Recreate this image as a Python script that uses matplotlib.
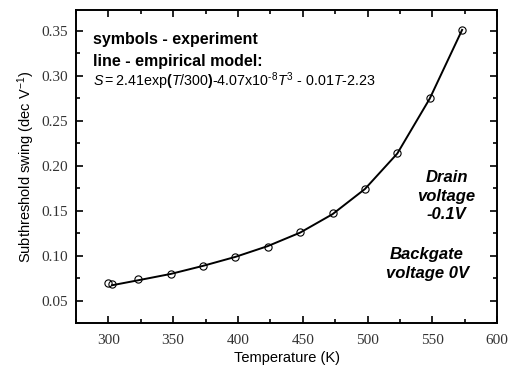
import matplotlib
matplotlib.use('Agg')
from matplotlib import pyplot as plt
from matplotlib.ticker import MultipleLocator

# measured points
temp_exp = [300, 303, 323, 348, 373, 398, 423, 448, 473, 498, 523, 548, 573]
swing_exp = [0.069, 0.068, 0.0734, 0.0793, 0.0889, 0.0984, 0.110, 0.126,
             0.147, 0.174, 0.214, 0.275, 0.351]

# empirical model curve
temp_model = [303, 323, 348, 373, 398, 423, 448, 473, 498, 523, 548, 573]
swing_model = [0.067, 0.0725, 0.0795, 0.0885, 0.0985, 0.1105, 0.1255,
               0.146, 0.174, 0.2135, 0.2745, 0.351]

xticks = [300, 350, 400, 450, 500, 550, 600]
yticks = [0.05, 0.10, 0.15, 0.20, 0.25, 0.30, 0.35]

plt.rcParams['mathtext.fontset'] = 'custom'
plt.rcParams['mathtext.rm'] = 'Liberation Sans'
plt.rcParams['mathtext.it'] = 'Liberation Sans:italic'
plt.rcParams['mathtext.bf'] = 'Liberation Sans:bold'

fig = plt.figure(figsize=(5.13, 3.74), dpi=100)
ax = fig.add_axes([0.148, 0.1364, 0.821, 0.8366])

ax.plot(temp_model, swing_model, color='black', lw=1.4, zorder=2)
ax.plot(temp_exp, swing_exp, ls='none', marker='o', ms=5.2, mfc='none',
        mec='black', mew=0.8, zorder=3)

ax.set_xlim(275, 600)
ax.set_ylim(0.025, 0.373)
ax.xaxis.set_minor_locator(MultipleLocator(25))
ax.yaxis.set_minor_locator(MultipleLocator(0.025))
ax.tick_params(which='both', direction='in', top=True, right=True,
               labeltop=False, labelright=False, width=1.2)
ax.tick_params(which='major', length=5, pad=6)
ax.tick_params(axis='x', which='major', pad=8)
ax.tick_params(which='minor', length=3)
for s in ax.spines.values():
    s.set_linewidth(1.4)

tick_font = {'family': 'Liberation Serif', 'size': 11}
ax.set_xticks(xticks)
ax.set_xticklabels([str(t) for t in xticks], fontdict=tick_font, color='#333333')
ax.set_yticks(yticks)
ax.set_yticklabels(['%.2f' % v for v in yticks], fontdict=tick_font, color='#333333')

ax.set_xlabel('Temperature (K)', family='Liberation Sans', fontsize=10.5, labelpad=3)
ax.set_ylabel(r'Subthreshold swing (dec V$^{-1}$)', family='Liberation Sans',
              fontsize=10.5, labelpad=3)

ax.text(0.040, 0.906, 'symbols - experiment', transform=ax.transAxes,
        family='Liberation Sans', weight='bold', fontsize=11.5, va='center')
ax.text(0.040, 0.837, 'line - empirical model:', transform=ax.transAxes,
        family='Liberation Sans', weight='bold', fontsize=11.5, va='center')
ax.text(0.040, 0.772,
        r'$S = 2.41\text{exp}\mathbf{(}T\text{/300}\mathbf{)}\text{-4.07x10}^{\text{-8}}T^{3}\text{ - 0.01}T\text{-2.23}$',
        transform=ax.transAxes, fontsize=10.3, va='center')

ax.text(561, 0.166, 'Drain\nvoltage\n-0.1V', family='Liberation Sans',
        style='italic', weight='bold', fontsize=12, ha='center', va='center',
        linespacing=1.3)
ax.text(546, 0.0905, 'Backgate\nvoltage 0V', family='Liberation Sans',
        style='italic', weight='bold', fontsize=12, ha='center', va='center',
        linespacing=1.3)

fig.savefig('out.png', dpi=100)
